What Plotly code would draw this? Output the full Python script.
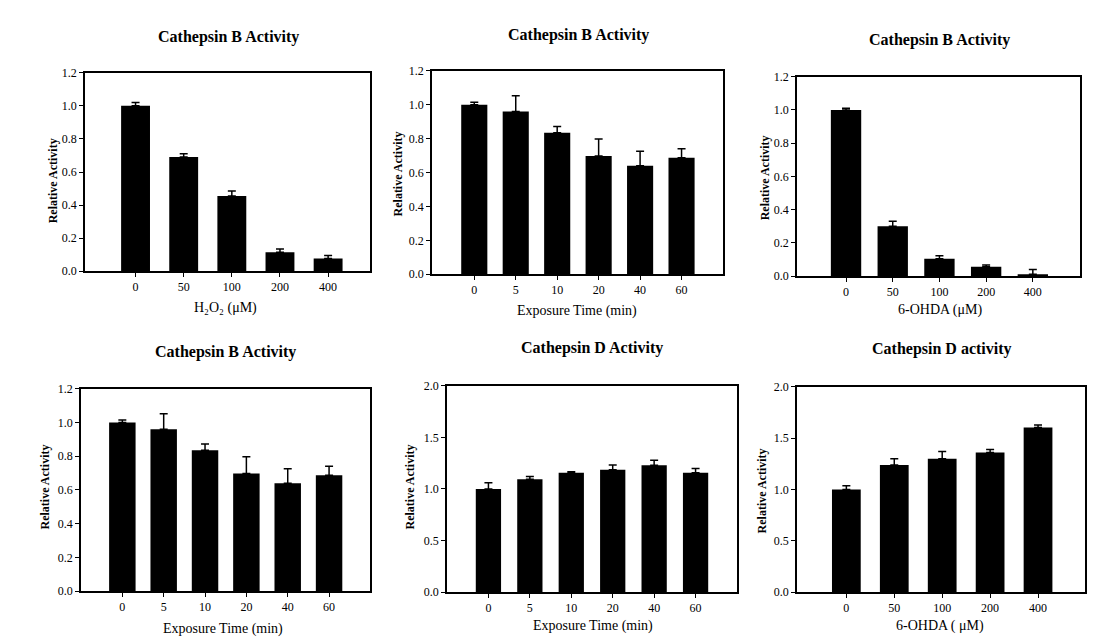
import plotly.graph_objects as go

W, H = 1116, 643

# ---- data ----
titles = ["Cathepsin B Activity", "Cathepsin B Activity", "Cathepsin B Activity",
          "Cathepsin B Activity", "Cathepsin D Activity", "Cathepsin D activity"]
xtitles = ["H\u2082O\u2082 (\u03bcM)", "Exposure Time (min)", "6-OHDA (\u03bcM)",
           "Exposure Time (min)", "Exposure Time (min)", "6-OHDA ( \u03bcM)"]

conc_labels = ["0", "50", "100", "200", "400"]
time_labels = ["0", "5", "10", "20", "40", "60"]

h2o2_vals = [1.0, 0.69, 0.455, 0.115, 0.078]
h2o2_err = [0.02, 0.02, 0.03, 0.02, 0.018]

timeB_vals = [1.0, 0.96, 0.835, 0.697, 0.64, 0.687]
timeB_err = [0.015, 0.092, 0.037, 0.1, 0.085, 0.053]

ohdaB_vals = [1.0, 0.30, 0.105, 0.057, 0.012]
ohdaB_err = [0.01, 0.03, 0.018, 0.01, 0.028]

timeD_vals = [1.0, 1.095, 1.157, 1.186, 1.23, 1.157]
timeD_err = [0.06, 0.025, 0.01, 0.045, 0.047, 0.04]

ohdaD_vals = [1.0, 1.238, 1.30, 1.359, 1.603]
ohdaD_err = [0.035, 0.06, 0.07, 0.03, 0.025]

yticks_12 = [0.0, 0.2, 0.4, 0.6, 0.8, 1.0, 1.2]
yticks_20 = [0.0, 0.5, 1.0, 1.5, 2.0]

panels = [
    dict(labels=conc_labels, vals=h2o2_vals, err=h2o2_err, ymax=1.2, yt=yticks_12,
         box=(77, 362, 59, 262), xr=(-1.05, 4.87), bw=0.6,
         tpos=(220, 22), ytpos=(45, 170), xtpos=(217, 300)),
    dict(labels=time_labels, vals=timeB_vals, err=timeB_err, ymax=1.2, yt=yticks_12,
         box=(424, 715, 57, 265), xr=(-1.02, 6.0), bw=0.63,
         tpos=(570, 20), ytpos=(390, 163), xtpos=(569, 303)),
    dict(labels=conc_labels, vals=ohdaB_vals, err=ohdaB_err, ymax=1.2, yt=yticks_12,
         box=(789, 1072, 63, 267), xr=(-1.05, 5.01), bw=0.65,
         tpos=(931, 26), ytpos=(757, 167), xtpos=(932, 302)),
    dict(labels=time_labels, vals=timeB_vals, err=timeB_err, ymax=1.2, yt=yticks_12,
         box=(73, 362, 382, 589), xr=(-1.0, 5.99), bw=0.64,
         tpos=(217, 345), ytpos=(37, 483), xtpos=(215, 628)),
    dict(labels=time_labels, vals=timeD_vals, err=timeD_err, ymax=2.0, yt=yticks_20,
         box=(439, 729, 379, 590), xr=(-1.0, 6.0), bw=0.61,
         tpos=(584, 340), ytpos=(402, 483), xtpos=(585, 625)),
    dict(labels=conc_labels, vals=ohdaD_vals, err=ohdaD_err, ymax=2.0, yt=yticks_20,
         box=(789, 1077, 380, 590), xr=(-1.03, 4.98), bw=0.6,
         tpos=(934, 341), ytpos=(754, 487), xtpos=(932, 625)),
]

SERIF = "Liberation Serif"
fig = go.Figure()
layout = dict(width=W, height=H, margin=dict(l=0, r=0, t=0, b=0),
              paper_bgcolor="white", plot_bgcolor="white", showlegend=False,
              annotations=[])

for i, p in enumerate(panels, start=1):
    sfx = "" if i == 1 else str(i)
    n = len(p["labels"])
    fig.add_trace(go.Bar(
        x=list(range(n)), y=p["vals"], width=p["bw"],
        marker=dict(color="black", line=dict(width=0)),
        error_y=dict(type="data", array=p["err"], arrayminus=[0] * n, symmetric=False,
                     color="black", thickness=1.5, width=4),
        xaxis="x" + sfx, yaxis="y" + sfx,
    ))
    x0, x1, y0, y1 = p["box"]
    axcommon = dict(showline=True, linecolor="black", linewidth=1.5, mirror=True,
                    showgrid=False, zeroline=False, ticks="outside", ticklen=4,
                    tickcolor="black", tickwidth=1,
                    tickfont=dict(family=SERIF, size=12, color="black"))
    layout["xaxis" + sfx] = dict(domain=[x0 / W, x1 / W], anchor="y" + sfx,
                                 range=list(p["xr"]), tickvals=list(range(n)),
                                 ticktext=p["labels"], **axcommon)
    layout["yaxis" + sfx] = dict(domain=[1 - y1 / H, 1 - y0 / H], anchor="x" + sfx,
                                 range=[0, p["ymax"]], tickvals=p["yt"],
                                 tickformat=".1f", **axcommon)
    tx, ty = p["tpos"]
    layout["annotations"].append(dict(
        text="<b>" + titles[i - 1] + "</b>", x=tx / W, y=1 - ty / H, xref="paper", yref="paper",
        showarrow=False, xanchor="center", yanchor="middle",
        font=dict(family=SERIF, size=16, color="black")))
    yx, yy = p["ytpos"]
    layout["annotations"].append(dict(
        text="<b>Relative Activity</b>", x=yx / W, y=1 - yy / H, xref="paper", yref="paper",
        showarrow=False, textangle=-90, xanchor="center", yanchor="middle",
        font=dict(family=SERIF, size=12, color="black")))
    xx, xy = p["xtpos"]
    layout["annotations"].append(dict(
        text=xtitles[i - 1], x=xx / W, y=1 - xy / H, xref="paper", yref="paper",
        showarrow=False, xanchor="center", yanchor="middle",
        font=dict(family=SERIF, size=14, color="black")))

fig.update_layout(**layout)
fig.write_html("out.html")
